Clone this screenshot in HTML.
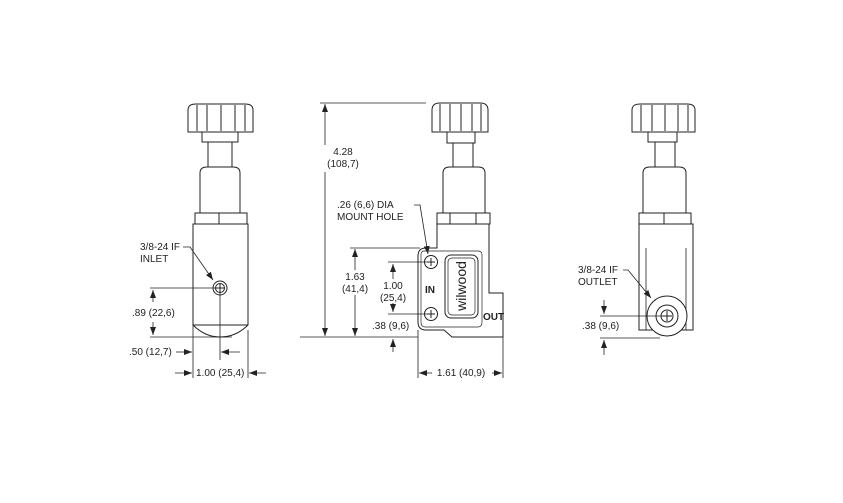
<!DOCTYPE html>
<html><head><style>
html,body{margin:0;padding:0;background:#fff;}
svg{display:block;}
text{font-family:"Liberation Sans",Arial,sans-serif;font-size:10px;fill:#222;}
</style></head><body>
<svg width="843" height="503" viewBox="0 0 843 503" xmlns="http://www.w3.org/2000/svg">
<defs>
<marker id="a" markerWidth="8" markerHeight="6" refX="8" refY="3" orient="auto" markerUnits="userSpaceOnUse"><path d="M0,0 L8,3 L0,6z" fill="#222"/></marker>
</defs>
<g stroke="#222" stroke-width="1" fill="#fff">
<!-- LEFT VIEW -->
<path d="M188,132 L188,110 Q188,104 196,104 L245,104 Q253,104 253,110 L253,132 Z"/>
<path d="M197,105 V131 M207,105 V131 M221,105 V131 M235,105 V131 M245,105 V131" fill="none"/>
<rect x="202" y="132" width="36" height="10"/>
<rect x="208" y="142" width="24" height="25"/>
<path d="M200,213 V173 Q200,167 207,167 H233 Q240,167 240,173 V213 Z"/>
<rect x="195" y="213" width="52" height="11"/>
<path d="M219,213 V224" fill="none"/>
<path d="M193,224 V325 Q205,337 220,337 Q236,337 248,325 V224 Z"/>
<path d="M193,325 H248" fill="none"/>
<circle cx="220" cy="288" r="7"/>
<circle cx="220" cy="288" r="4.5"/>
<path d="M216,288 H224 M220,284 V292" fill="none"/>
<!-- MIDDLE VIEW -->
<path d="M432,132 L432,110 Q432,103 440,103 L480,103 Q488,103 488,110 L488,132 Z"/>
<path d="M440,104 V131 M450,104 V131 M461,104 V131 M472,104 V131 M481,104 V131" fill="none"/>
<rect x="447" y="132" width="28" height="11"/>
<rect x="453" y="143" width="20" height="24"/>
<path d="M443,213 V173 Q443,167 450,167 H478 Q485,167 485,173 V213 Z"/>
<rect x="437" y="213" width="53" height="11"/>
<path d="M450,213 V224 M476,213 V224" fill="none"/>
<path d="M437,224 H489 V293 H503 V337 H452 L444,330 H426 Q418,330 418,322 V256 Q418,248 426,248 H437 Z"/>
<path d="M424,251 H478 Q482,251 482,255 V322 Q482,327 478,327 H425 Q421,327 421,322 V255 Q421,251 424,251" fill="none" stroke-width="0.7"/>
<rect x="445" y="255" width="33" height="63" rx="6"/>
<rect x="448" y="258" width="27" height="57" rx="4" fill="none" stroke-width="0.7"/>
<circle cx="431" cy="262" r="6.5"/>
<circle cx="431" cy="314" r="6.5"/>
<path d="M427,262 H435 M431,258 V266 M427,314 H435 M431,310 V318" fill="none"/>
<!-- RIGHT VIEW -->
<path d="M632,132 L632,110 Q632,104 640,104 L687,104 Q695,104 695,110 L695,132 Z"/>
<path d="M641,105 V131 M652,105 V131 M665,105 V131 M678,105 V131 M688,105 V131" fill="none"/>
<rect x="648" y="132" width="29" height="10"/>
<rect x="655" y="142" width="20" height="25"/>
<path d="M643,213 V173 Q643,167 650,167 H679 Q686,167 686,173 V213 Z"/>
<rect x="639" y="213" width="52" height="11"/>
<path d="M664,213 V224" fill="none"/>
<path d="M639,224 H693 V330 H639 Z"/>
<path d="M646,248 V330 M686,248 V330" fill="none" stroke-width="0.8"/>
<circle cx="667" cy="316" r="20"/>
<circle cx="667" cy="316" r="11"/>
<circle cx="667" cy="316" r="6"/>
<path d="M662,316 H672 M667,311 V321" fill="none"/>
</g>
<g stroke="#222" stroke-width="0.8" fill="none">
<path d="M150,288 H220 M150,337 H232"/>
<path d="M153,302 V290" marker-end="url(#a)"/>
<path d="M153,322 V335" marker-end="url(#a)"/>
<path d="M193,325 V378 M248,330 V378 M220,292 V360"/>
<path d="M176,352 H192" marker-end="url(#a)"/>
<path d="M240,352 H221" marker-end="url(#a)"/>
<path d="M175,373 H192" marker-end="url(#a)"/>
<path d="M266,373 H249" marker-end="url(#a)"/>
<path d="M183,247 H190 L213,280" marker-end="url(#a)"/>
<path d="M320,103 H426 M320,337 H418 M350,248 H420 M388,262 H431 M388,314 H431"/>
<path d="M325,145 V104" marker-end="url(#a)"/>
<path d="M325,172 V336" marker-end="url(#a)"/>
<path d="M355,270 V249" marker-end="url(#a)"/>
<path d="M355,295 V336" marker-end="url(#a)"/>
<path d="M393,279 V264" marker-end="url(#a)"/>
<path d="M393,303 V312" marker-end="url(#a)"/>
<path d="M393,352 V339" marker-end="url(#a)"/>
<path d="M418,330 V378 M503,337 V378"/>
<path d="M432,373 H419" marker-end="url(#a)"/>
<path d="M492,373 H502" marker-end="url(#a)"/>
<path d="M414,205 H420 L428,254" marker-end="url(#a)"/>
<path d="M300,337 H320"/>
<path d="M600,316 H667 M600,338 H660"/>
<path d="M604,300 V314" marker-end="url(#a)"/>
<path d="M604,355 V340" marker-end="url(#a)"/>
<path d="M623,270 H628 L651,298" marker-end="url(#a)"/>
</g>
<text x="140" y="250">3/8-24 IF</text>
<text x="140" y="262">INLET</text>
<text x="132" y="316">.89 (22,6)</text>
<text x="129" y="355">.50 (12,7)</text>
<text x="196" y="376">1.00 (25,4)</text>
<text x="343" y="155" text-anchor="middle">4.28</text>
<text x="343" y="167" text-anchor="middle">(108,7)</text>
<text x="337" y="208">.26 (6,6) DIA</text>
<text x="337" y="220">MOUNT HOLE</text>
<text x="355" y="280" text-anchor="middle">1.63</text>
<text x="355" y="292" text-anchor="middle">(41,4)</text>
<text x="393" y="289" text-anchor="middle">1.00</text>
<text x="393" y="301" text-anchor="middle">(25,4)</text>
<text x="372" y="329">.38 (9,6)</text>
<text x="461" y="376" text-anchor="middle">1.61 (40,9)</text>
<text x="425" y="293" style="font-weight:bold">IN</text>
<text x="483" y="320" style="font-weight:bold">OUT</text>
<text x="0" y="0" text-anchor="middle" transform="translate(466,286) rotate(-90)" style="font-size:14px">wilwood</text>
<text x="578" y="273">3/8-24 IF</text>
<text x="578" y="285">OUTLET</text>
<text x="582" y="329">.38 (9,6)</text>
</svg>
</body></html>
